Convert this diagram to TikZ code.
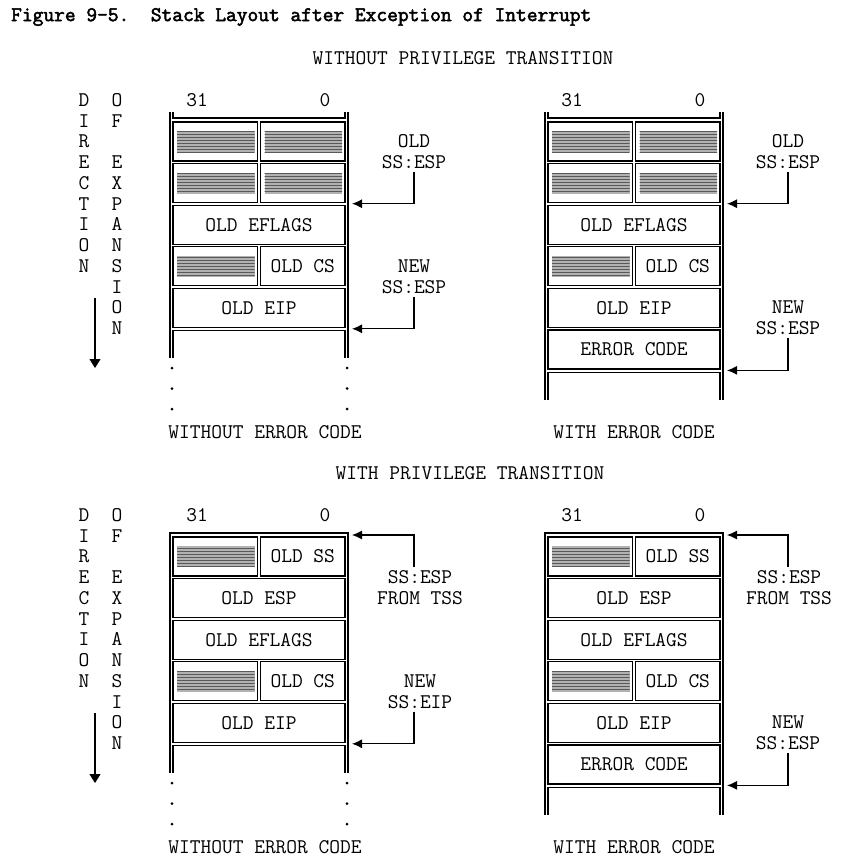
\documentclass[tikz,border=0pt]{standalone}
\usepackage{fontspec}
\newfontfamily\figtitlefont[FakeBold=2.5]{Latin Modern Mono}
\usetikzlibrary{arrows.meta,patterns}
\newcommand\stackfont{\ttfamily\fontsize{20.86pt}{20.75pt}\selectfont}
\tikzset{
  every node/.style={font=\stackfont},
  wide cell/.style={
    rectangle, draw=black, line width=1.1pt, inner sep=0pt,
    minimum width=172pt, minimum height=39pt
  },
  half cell/.style={
    rectangle, draw=black, line width=1.1pt, inner sep=0pt,
    minimum width=84.5pt, minimum height=39pt
  },
  shaded cell/.style={
    half cell,
    path picture={
      \fill[gray!60, postaction={pattern=horizontal lines, pattern color=gray!70!black}]
      ([shift={(4pt,-9pt)}]path picture bounding box.north west) rectangle
      ([shift={(-3pt,9pt)}]path picture bounding box.south east);
    }
  },
  frame line/.style={draw=black, line width=1.1pt},
  pointer/.style={draw=black, line width=1.1pt, -{Latex[length=10pt,width=9pt]}},
  tag/.style={align=center, inner sep=3pt},
  direction/.style={align=center, inner sep=0pt}
}

\begin{document}
\begin{tikzpicture}[x=1pt, y=-1pt]
  \useasboundingbox (0,0) rectangle (863,867);

  \node[anchor=west, inner sep=0pt, font=\figtitlefont\fontsize{20.86pt}{20.75pt}\selectfont] (title) at (11,17)
    {Figure 9-5.~~Stack Layout after Exception of Interrupt};
  \node (hdrTop) at (463,58) {WITHOUT PRIVILEGE TRANSITION};
  \node (hdrBot) at (470,473) {WITH PRIVILEGE TRANSITION};

% ------------------------------------------------
% direction of expansion, top and bottom
% ------------------------------------------------
\foreach \dy/\nm in {0/t, 415/b} {
  \begin{scope}[shift={(0,\dy)}]
    \node[direction] (dir\nm) at (84,183) {D\\I\\R\\E\\C\\T\\I\\O\\N};
    \node[direction] (exp\nm) at (117,214) {O\\F\\~\\E\\X\\P\\A\\N\\S\\I\\O\\N};
    \coordinate (dirA\nm) at (95,298);
    \coordinate (dirB\nm) at (95,373);
    \draw[line width=1.1pt, -{Triangle[length=9pt,width=11pt,sep=5pt]}] (dirA\nm) -- (dirB\nm);
  \end{scope}
}

% ------------------------------------------------
% top left: no privilege change, no error code
% ------------------------------------------------
\begin{scope}
  \node (aHi) at (197,100) {31};
  \node (aLo) at (325,100) {0};
  \draw[frame line] (170,112) -- (170,358);
  \draw[frame line] (348,112) -- (348,358);
  \draw[frame line] (173,112) |- (345,118) -- (345,112);
  \node[shaded cell] (a0l) at (215.25,141.5) {};
  \node[shaded cell] (a0r) at (302.75,141.5) {};
  \node[shaded cell] (a1l) at (215.25,183.1) {};
  \node[shaded cell] (a1r) at (302.75,183.1) {};
  \node[wide cell]   (a2)  at (259,224.7) {OLD EFLAGS};
  \node[shaded cell] (a3l) at (215.25,266.3) {};
  \node[half cell]   (a3r) at (302.75,266.3) {OLD CS};
  \node[wide cell]   (a4)  at (259,307.9) {OLD EIP};
  \draw[frame line] (173,358) |- (345,330.5) -- (345,358);

  \node[tag] (aOld) at (414,152) {OLD\\SS:ESP};
  \coordinate (aOldTip) at (352,203.7);
  \draw[pointer] (aOld.south) |- (aOldTip);
  \node[tag] (aNew) at (414,276.5) {NEW\\SS:ESP};
  \coordinate (aNewTip) at (352,328.8);
  \draw[pointer] (aNew.south) |- (aNewTip);

  \foreach \y in {368,388.5,409} {
    \fill (172,\y) circle (1.5);
    \fill (347,\y) circle (1.5);
  }
  \node (aCap) at (265,432) {WITHOUT ERROR CODE};
\end{scope}

% ------------------------------------------------
% top right: no privilege change, with error code
% ------------------------------------------------
\begin{scope}[shift={(375,0)}]
  \node (bHi) at (197,100) {31};
  \node (bLo) at (325,100) {0};
  \draw[frame line] (170,112) -- (170,400);
  \draw[frame line] (348,112) -- (348,400);
  \draw[frame line] (173,112) |- (345,118) -- (345,112);
  \node[shaded cell] (b0l) at (215.25,141.5) {};
  \node[shaded cell] (b0r) at (302.75,141.5) {};
  \node[shaded cell] (b1l) at (215.25,183.1) {};
  \node[shaded cell] (b1r) at (302.75,183.1) {};
  \node[wide cell]   (b2)  at (259,224.7) {OLD EFLAGS};
  \node[shaded cell] (b3l) at (215.25,266.3) {};
  \node[half cell]   (b3r) at (302.75,266.3) {OLD CS};
  \node[wide cell]   (b4)  at (259,307.9) {OLD EIP};
  \node[wide cell]   (b5)  at (259,349.5) {ERROR CODE};
  \draw[frame line] (173,400) |- (345,372.1) -- (345,400);

  \node[tag] (bOld) at (413,152) {OLD\\SS:ESP};
  \coordinate (bOldTip) at (352,203.7);
  \draw[pointer] (bOld.south) |- (bOldTip);
  \node[tag] (bNew) at (413,317.5) {NEW\\SS:ESP};
  \coordinate (bNewTip) at (352,370.4);
  \draw[pointer] (bNew.south) |- (bNewTip);

  \node (bCap) at (259,432) {WITH ERROR CODE};
\end{scope}

% ------------------------------------------------
% bottom left: privilege change, no error code
% ------------------------------------------------
\begin{scope}[shift={(0,415)}]
  \node (cHi) at (197,100) {31};
  \node (cLo) at (325,100) {0};
  \draw[frame line] (170,358) |- (348,118) -- (348,358);
  \node[shaded cell] (c0l) at (215.25,141.5) {};
  \node[half cell]   (c0r) at (302.75,141.5) {OLD SS};
  \node[wide cell]   (c1)  at (259,183.1) {OLD ESP};
  \node[wide cell]   (c2)  at (259,224.7) {OLD EFLAGS};
  \node[shaded cell] (c3l) at (215.25,266.3) {};
  \node[half cell]   (c3r) at (302.75,266.3) {OLD CS};
  \node[wide cell]   (c4)  at (259,307.9) {OLD EIP};
  \draw[frame line] (173,358) |- (345,330.5) -- (345,358);

  \node[tag] (cTss) at (420,172.5) {SS:ESP\\FROM TSS};
  \coordinate (cTssTip) at (352,120);
  \draw[pointer] ([xshift=-6pt]cTss.north) |- (cTssTip);
  \node[tag] (cNew) at (420,276.5) {NEW\\SS:EIP};
  \coordinate (cNewTip) at (352,328.8);
  \draw[pointer] ([xshift=-6pt]cNew.south) |- (cNewTip);

  \foreach \y in {368,388.5,409} {
    \fill (172,\y) circle (1.5);
    \fill (347,\y) circle (1.5);
  }
  \node (cCap) at (265,432) {WITHOUT ERROR CODE};
\end{scope}

% ------------------------------------------------
% bottom right: privilege change, with error code
% ------------------------------------------------
\begin{scope}[shift={(375,415)}]
  \node (dHi) at (197,100) {31};
  \node (dLo) at (325,100) {0};
  \draw[frame line] (170,400) |- (348,118) -- (348,400);
  \node[shaded cell] (d0l) at (215.25,141.5) {};
  \node[half cell]   (d0r) at (302.75,141.5) {OLD SS};
  \node[wide cell]   (d1)  at (259,183.1) {OLD ESP};
  \node[wide cell]   (d2)  at (259,224.7) {OLD EFLAGS};
  \node[shaded cell] (d3l) at (215.25,266.3) {};
  \node[half cell]   (d3r) at (302.75,266.3) {OLD CS};
  \node[wide cell]   (d4)  at (259,307.9) {OLD EIP};
  \node[wide cell]   (d5)  at (259,349.5) {ERROR CODE};
  \draw[frame line] (173,400) |- (345,372.1) -- (345,400);

  \node[tag] (dTss) at (414,172.5) {SS:ESP\\FROM TSS};
  \coordinate (dTssTip) at (352,120);
  \draw[pointer] ([xshift=-1pt]dTss.north) |- (dTssTip);
  \node[tag] (dNew) at (413,317.5) {NEW\\SS:ESP};
  \coordinate (dNewTip) at (352,370.4);
  \draw[pointer] (dNew.south) |- (dNewTip);

  \node (dCap) at (259,432) {WITH ERROR CODE};
\end{scope}
\end{tikzpicture}
\end{document}
